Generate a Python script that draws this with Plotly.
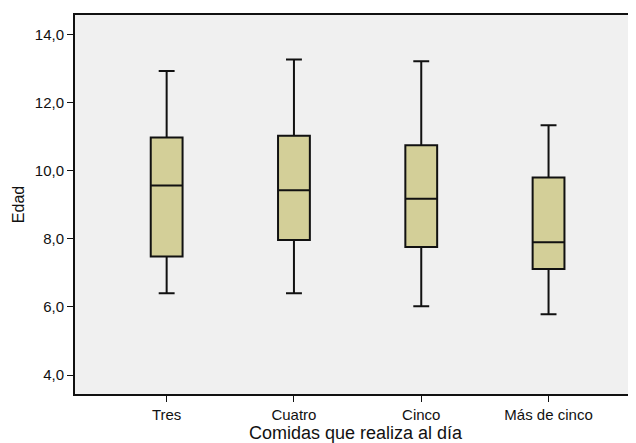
import plotly.graph_objects as go

categories = ["Tres", "Cuatro", "Cinco", "Más de cinco"]
lower_whisker = [6.40, 6.40, 6.02, 5.78]
q1_values = [7.48, 7.96, 7.76, 7.11]
median_values = [9.56, 9.42, 9.17, 7.90]
q3_values = [10.97, 11.02, 10.74, 9.80]
upper_whisker = [12.92, 13.26, 13.21, 11.33]
y_tick_values = [4, 6, 8, 10, 12, 14]

fig = go.Figure()
fig.add_trace(go.Box(
    x=categories,
    q1=q1_values,
    median=median_values,
    q3=q3_values,
    lowerfence=lower_whisker,
    upperfence=upper_whisker,
    fillcolor="#D3CF98",
    line=dict(color="#111111", width=2),
    width=0.25,
    whiskerwidth=0.5,
    boxpoints=False,
    showlegend=False,
    hoverinfo="skip",
))

font_family = "Liberation Sans, Arial, Helvetica, sans-serif"
fig.update_layout(
    width=628,
    height=435,
    margin=dict(l=67, r=0, t=7, b=49),
    paper_bgcolor="white",
    plot_bgcolor="#F0F0F0",
    separators=",.",
    font=dict(family=font_family, size=15, color="#111111"),
    xaxis=dict(
        type="category",
        range=[-0.72, 3.687],
        showline=True,
        linecolor="#111111",
        linewidth=2,
        mirror=True,
        ticks="outside",
        ticklen=6,
        tickcolor="#111111",
        showgrid=False,
        zeroline=False,
        title=dict(text="Comidas que realiza al día", font=dict(size=18), standoff=2),
        tickfont=dict(size=15),
    ),
    yaxis=dict(
        range=[3.443, 14.566],
        tickvals=y_tick_values,
        tickformat=".1f",
        showline=True,
        linecolor="#111111",
        linewidth=2,
        mirror=False,
        ticks="outside",
        ticklen=6,
        tickcolor="#111111",
        showgrid=False,
        zeroline=False,
        title=dict(text="Edad", font=dict(size=16), standoff=6),
        tickfont=dict(size=15),
    ),
)

fig.write_html("out.html")
